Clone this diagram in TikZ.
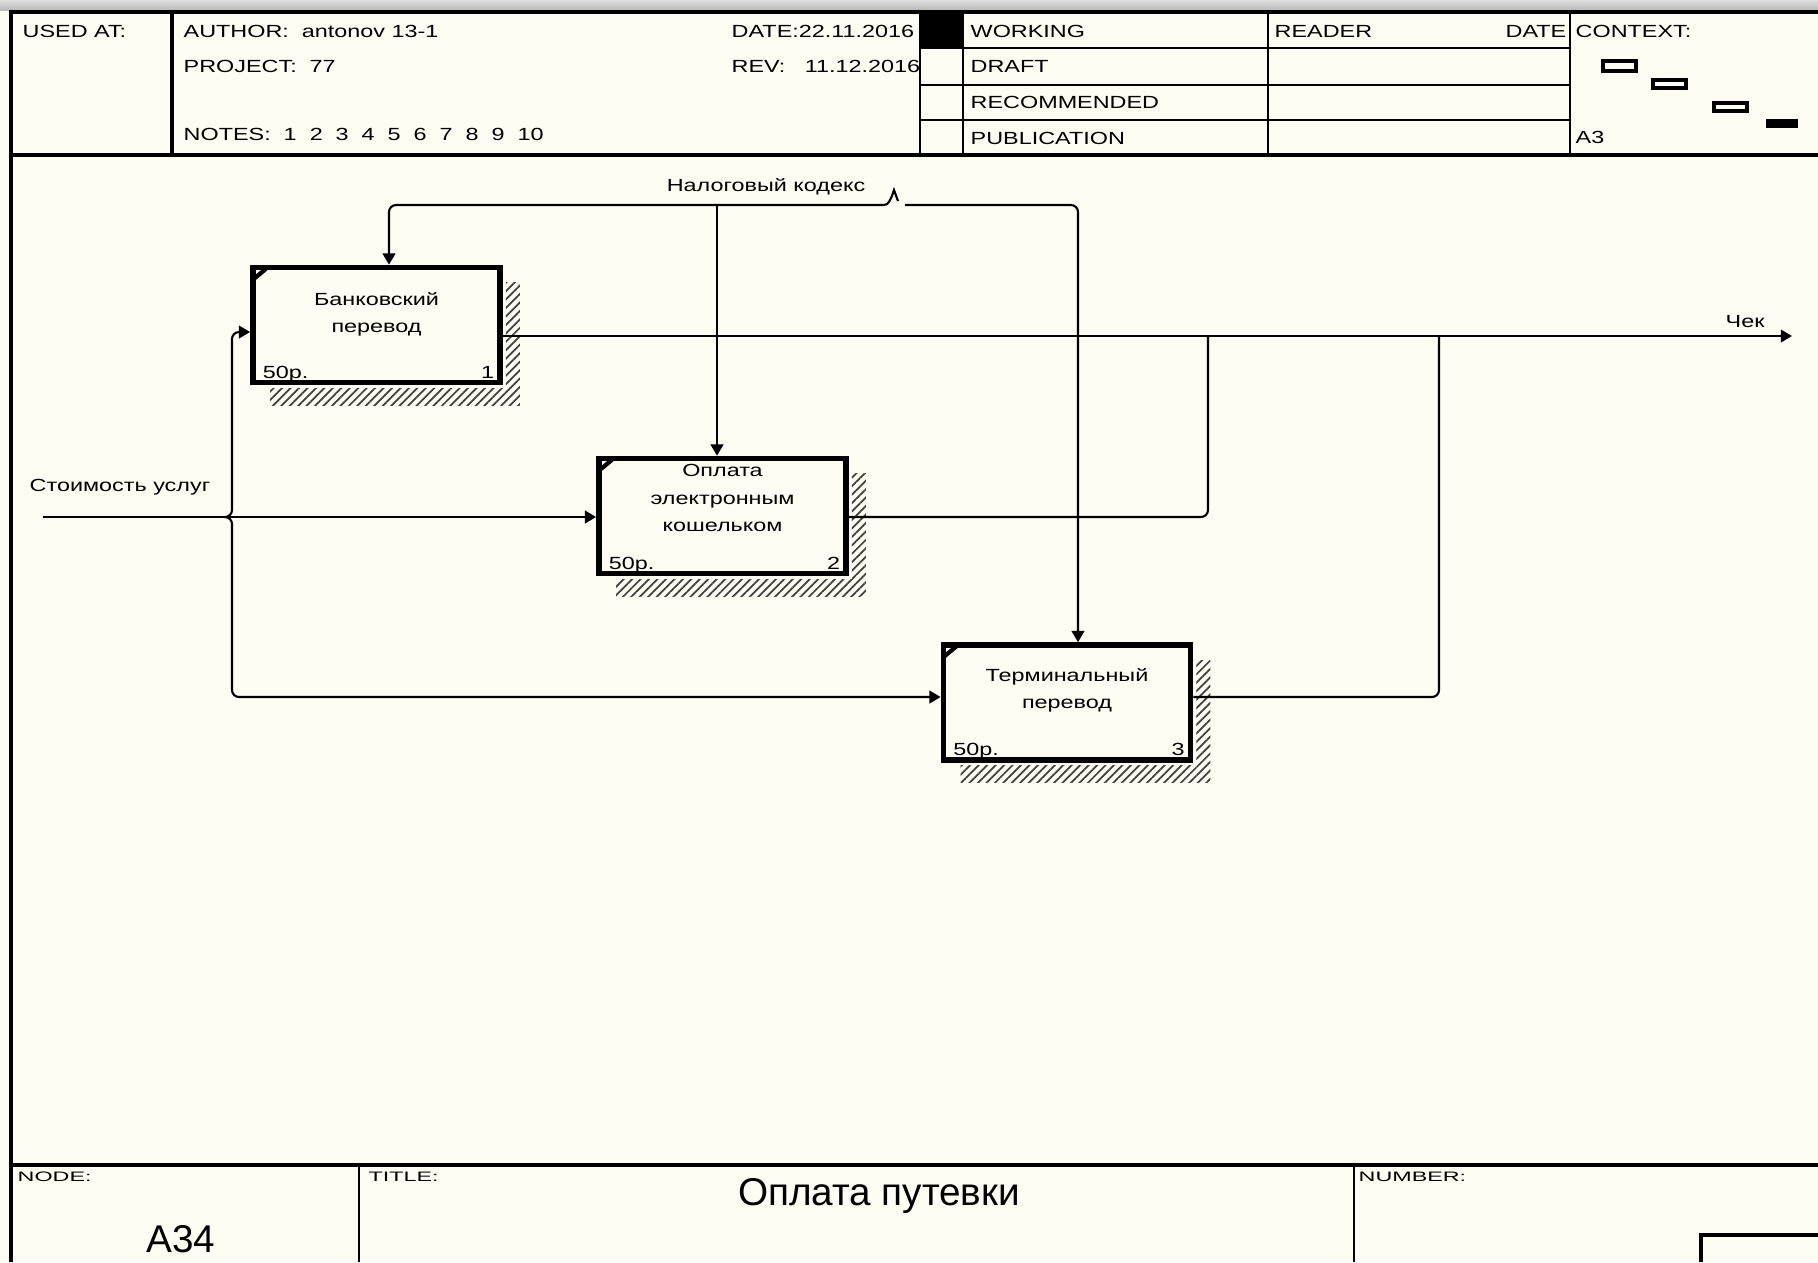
\documentclass[tikz,border=0pt]{standalone}
\usepackage{fontspec}
\setmainfont{Liberation Sans}
\newfontfamily\idefsf[FakeStretch=1.33]{Liberation Sans}
\newfontfamily\idefnar[FakeStretch=1.7]{Liberation Sans}
\usetikzlibrary{arrows.meta,patterns.meta}
\definecolor{paper}{RGB}{255,252,243}
\tikzset{>={Triangle[length=3.2pt,width=3.6pt]},
  every node/.style={font=\idefsf\fontsize{5pt}{7.8pt}\selectfont,inner sep=0pt},
  frame/.style={line width=.95pt},
  cell/.style={line width=.65pt},
  func/.style={draw,line width=1.6pt,fill=paper,minimum width=2.47cm,minimum height=1.15cm},
  shadow/.style={pattern={Lines[angle=45,distance=1.7pt,line width=.5pt]},pattern color=black!75},
  link/.style={line width=.6pt,rounded corners=2pt},
  flow/.style={link,->}}

\begin{document}
\begin{tikzpicture}[x=.01cm,y=-.01cm]
\fill[paper] (0,0) rectangle (1818,1262);
\useasboundingbox (0,0) rectangle (1818,1262);
\shade[top color=gray!25,bottom color=gray!55] (0,0) rectangle (1818,10);
% header block
\draw[frame] (11,1262) -- (11,12) -- (1818,12);
\draw[frame] (11,155) -- (1818,155);
\draw[frame] (172,12) -- (172,155);
\foreach \x in {920,963,1268,1570}{\draw[cell] (\x,12) -- (\x,155);}
\foreach \y in {48,85,120}{\draw[cell] (920,\y) -- (1570,\y);}
\node[anchor=base west] (hused) at (22,37) {USED AT:};
\node[anchor=base west] (hauth) at (183,37) {AUTHOR:\ \ antonov 13-1};
\node[anchor=base west] (hproj) at (183,72) {PROJECT:\ \ 77};
\node[anchor=base west] (hnote) at (183,140) {NOTES:\ \ 1\ \ 2\ \ 3\ \ 4\ \ 5\ \ 6\ \ 7\ \ 8\ \ 9\ \ 10};
\node[anchor=base west] (hdate) at (731,37) {DATE:22.11.2016};
\node[anchor=base west] (hrev) at (731,72) {REV:\ \ \ 11.12.2016};
\fill (920,12) rectangle (963,48);
\foreach \t/\y in {WORKING/37,DRAFT/72,RECOMMENDED/108,PUBLICATION/144}{
  \node[anchor=base west] (s\t) at (970,\y) {\t};}
\node[anchor=base west] (hread) at (1274,37) {READER};
\node[anchor=base east] (hrdate) at (1567,37) {DATE};
\node[anchor=base west] (hctx) at (1575,37) {CONTEXT:};
\node[anchor=base west] (hsize) at (1575,143) {A3};
\draw[line width=.9pt] (1603,61) rectangle (1636,71) (1653,80) rectangle (1686,88) (1714,103) rectangle (1747,111);
\fill (1766,119) rectangle (1798,128);
% title block
\draw[frame] (11,1165) -- (1818,1165);
\draw[cell] (359,1165) -- (359,1262) (1354,1165) -- (1354,1262);
\draw[frame] (1701,1262) -- (1701,1235) -- (1818,1235);
\node[anchor=base west,font=\idefnar\fontsize{3.9pt}{4pt}\selectfont] (fnode) at (17,1181) {NODE:};
\node[anchor=base west,font=\idefnar\fontsize{3.9pt}{4pt}\selectfont] (ftitle) at (368,1181) {TITLE:};
\node[anchor=base west,font=\idefnar\fontsize{3.9pt}{4pt}\selectfont] (fnum) at (1358,1181) {NUMBER:};
\node[anchor=base,font=\fontsize{11pt}{12pt}\selectfont] (fname) at (879,1205) {Оплата путевки};
\node[anchor=base,font=\fontsize{11pt}{12pt}\selectfont] (fid) at (181,1252) {A34};
% functions
\node[func] (b1) at (376.5,325) {};
\node[func] (b2) at (722.5,516) {};
\node[func] (b3) at (1067,702.5) {};
\foreach \b/\n/\up/\txt in {b1/1/11/{Банковский\\перевод},b2/2/18/{Оплата\\электронным\\кошельком},b3/3/12/{Терминальный\\перевод}}{
  \fill[shadow] ([shift={(3,18)}]\b.north east) rectangle ([shift={(17,20)}]\b.south east);
  \fill[shadow] ([shift={(20,3)}]\b.south west) rectangle ([shift={(3,20)}]\b.south east);
  \draw[line width=1.2pt] ([shift={(4,14)}]\b.north west) -- ([shift={(16,4)}]\b.north west);
  \node[align=center] (t\n) at ([shift={(0,-\up)}]\b.center) {\txt};
  \node[anchor=base west] (c\n) at ([shift={(12,-7)}]\b.south west) {50р.};
  \node[anchor=base east] (n\n) at ([shift={(-8,-7)}]\b.south east) {\n};}
% control
\coordinate (kL) at (389,205);
\coordinate (kM) at (717,205);
\coordinate (kR) at (1078,205);
\coordinate (sqL) at (884,205);
\coordinate (sqR) at (905,205);
\draw[flow] (sqL) -- (kL) -- (kL |- b1.north);
\draw[flow] (kM) -- (kM |- b2.north);
\draw[flow] (sqR) -- (kR) -- (kR |- b3.north);
\draw[line width=.6pt] (sqL) .. controls (889,205) and (890,199) .. (892,196) -- (894,190) -- (898,201);
\node[anchor=base] (lctl) at (766,191) {Налоговый кодекс};
% input
\coordinate (iS) at (43,517);
\coordinate (fk) at (225,517);
\coordinate (vU) at (232,332);
\coordinate (vD) at (232,697);
\draw[flow] (iS) -- (iS -| b2.west);
\draw[flow] (fk) -| (vU) -- (vU -| b1.west);
\draw[flow] (fk) -| (vD) -- (vD -| b3.west);
\node[anchor=base west] (lin) at (29,491) {Стоимость услуг};
% output
\coordinate (oE) at (1792,336);
\coordinate (j2) at (1208,336);
\coordinate (j3) at (1439,336);
\draw[flow] (oE -| b1.east) -- (oE);
\draw[link] (iS -| b2.east) -| (j2);
\draw[link] (vD -| b3.east) -| (j3);
\node[anchor=base west] (lout) at (1725,327) {Чек};
\end{tikzpicture}
\end{document}
